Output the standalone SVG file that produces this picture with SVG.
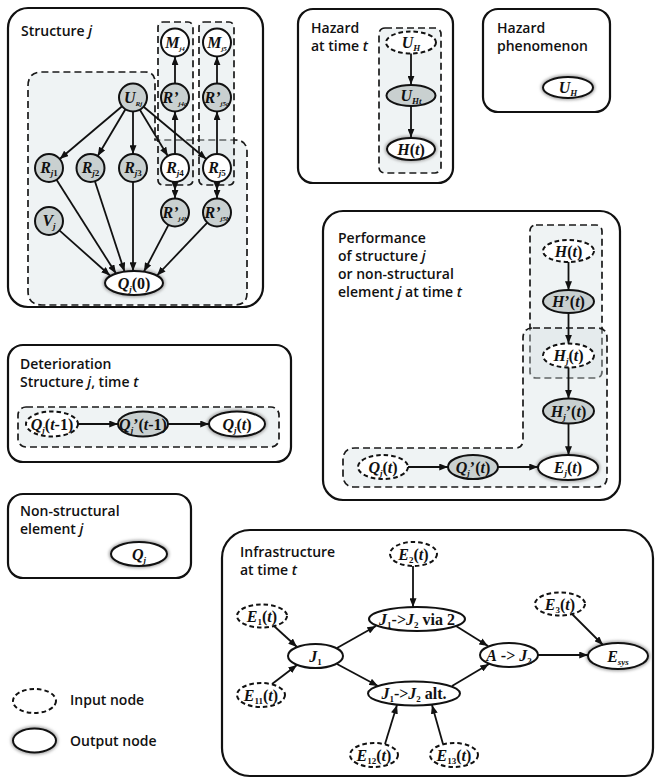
<svg xmlns="http://www.w3.org/2000/svg" width="655" height="778" viewBox="0 0 655 778">
<defs>
<style>
.panel{fill:#fff;stroke:#111;stroke-width:2.2}
.region{fill:#d5dfe1;fill-opacity:.38;stroke:#1a1a1a;stroke-width:1.7;stroke-dasharray:7 4}
.title{font-family:"Open Sans","Liberation Sans",sans-serif;font-weight:600;font-size:14px;fill:#111}
.it{font-style:italic}
.in{fill:#fff;stroke:#111;stroke-width:2;stroke-dasharray:4.5 3}
.mid{fill:#c9d0d0;stroke:#111;stroke-width:2}
.out{fill:#fff;stroke:#111;stroke-width:2}
.plain{fill:#fff;stroke:#111;stroke-width:2}
.halo{fill:none;stroke:#a8a8a8;stroke-width:4.5;filter:url(#blur)}
.lbl{font-family:"Liberation Serif","Times New Roman",serif;font-weight:bold;font-size:16px;text-anchor:middle;fill:#111}
.v{font-style:italic}
.s{font-size:9px}
.ss{font-size:7px}
.e{fill:none;stroke:#111;stroke-width:1.8;marker-end:url(#ah)}
.e2{fill:none;stroke:#111;stroke-width:1.8;marker-mid:url(#ah);marker-end:url(#ah)}
</style>
<marker id="ah" viewBox="0 0 10 8" refX="10" refY="4" markerWidth="9" markerHeight="7" markerUnits="userSpaceOnUse" orient="auto"><path d="M0,0 L10,4 L0,8 Z" fill="#111"/></marker>
<filter id="blur" x="-20%" y="-40%" width="140%" height="180%"><feGaussianBlur stdDeviation="1.6"/></filter>
</defs>

<!-- panels -->
<g id="panels">
<rect class="panel" x="8" y="8" width="255" height="299" rx="20"/>
<rect class="panel" x="298" y="9" width="155" height="174" rx="15"/>
<rect class="panel" x="483" y="9" width="127" height="103" rx="15"/>
<rect class="panel" x="323" y="211" width="297" height="289" rx="20"/>
<rect class="panel" x="8" y="345" width="283" height="117" rx="15"/>
<rect class="panel" x="8" y="494" width="183" height="84" rx="15"/>
<rect class="panel" x="222" y="530" width="431" height="246" rx="28"/>
</g>

<!-- dashed grouping regions -->
<g id="regions">
<path class="region" d="M28,86 Q28,72 42,72 H145 Q155,72 155,82 V140 H235 Q247,140 247,152 V293 Q247,305 235,305 H42 Q28,305 28,291 Z"/>
<rect class="region" x="158" y="22" width="35" height="163" rx="5"/>
<rect class="region" x="199" y="22" width="35" height="163" rx="5"/>
<rect class="region" x="379" y="28" width="62" height="145" rx="6"/>
<rect class="region" x="530" y="225" width="72" height="153" rx="6"/>
<path class="region" d="M533,328 H597 Q607,328 607,338 V477 Q607,487 597,487 H355 Q343,487 343,475 V460 Q343,448 355,448 H515 Q523,448 523,440 V338 Q523,328 533,328 Z"/>
<rect class="region" x="18" y="407" width="261" height="40" rx="8"/>
</g>

<!-- panel titles -->
<g id="titles" class="title">
<text x="21" y="36">Structure <tspan class="it">j</tspan></text>
<text x="311" y="33">Hazard</text>
<text x="311" y="51">at time <tspan class="it">t</tspan></text>
<text x="497" y="33">Hazard</text>
<text x="497" y="51">phenomenon</text>
<text x="338" y="243">Performance</text>
<text x="338" y="261">of structure <tspan class="it">j</tspan></text>
<text x="338" y="279">or non-structural</text>
<text x="338" y="297">element <tspan class="it">j</tspan> at time <tspan class="it">t</tspan></text>
<text x="20" y="369">Deterioration</text>
<text x="20" y="387">Structure <tspan class="it">j</tspan>, time <tspan class="it">t</tspan></text>
<text x="20" y="516">Non-structural</text>
<text x="20" y="534">element <tspan class="it">j</tspan></text>
<text x="240" y="557">Infrastructure</text>
<text x="240" y="575">at time <tspan class="it">t</tspan></text>
<text x="70" y="705">Input node</text>
<text x="70" y="746">Output node</text>
</g>

<!-- structure j -->
<g id="M_j4"><circle class="plain" cx="175" cy="42.5" r="14"/><text class="lbl" x="175" y="47.5"><tspan class="v">M</tspan><tspan class="ss v" dy="3">j4</tspan></text></g>
<g id="M_j5"><circle class="plain" cx="217" cy="42.5" r="14"/><text class="lbl" x="217" y="47.5"><tspan class="v">M</tspan><tspan class="ss v" dy="3">j5</tspan></text></g>
<g id="R_j4a"><circle class="mid" cx="175" cy="97.5" r="14"/><text class="lbl" x="175" y="102.5"><tspan class="v">R’</tspan><tspan class="ss v" dy="3">j4a</tspan></text></g>
<g id="R_j5a"><circle class="mid" cx="217" cy="97.5" r="14"/><text class="lbl" x="217" y="102.5"><tspan class="v">R’</tspan><tspan class="ss v" dy="3">j5a</tspan></text></g>
<g id="U_Rj"><circle class="mid" cx="133" cy="97.5" r="14"/><text class="lbl" x="133" y="102.5"><tspan class="v">U</tspan><tspan class="ss v" dy="3">Rj</tspan></text></g>
<g id="R_j1"><circle class="mid" cx="49" cy="168" r="14"/><text class="lbl" x="49" y="173"><tspan class="v">R</tspan><tspan class="s" dy="3"><tspan class="v">j</tspan>1</tspan></text></g>
<g id="R_j2"><circle class="mid" cx="90.5" cy="168" r="14"/><text class="lbl" x="90.5" y="173"><tspan class="v">R</tspan><tspan class="s" dy="3"><tspan class="v">j</tspan>2</tspan></text></g>
<g id="R_j3"><circle class="mid" cx="133" cy="168" r="14"/><text class="lbl" x="133" y="173"><tspan class="v">R</tspan><tspan class="s" dy="3"><tspan class="v">j</tspan>3</tspan></text></g>
<g id="R_j4"><circle class="plain" cx="175" cy="168" r="14"/><text class="lbl" x="175" y="173"><tspan class="v">R</tspan><tspan class="s" dy="3"><tspan class="v">j</tspan>4</tspan></text></g>
<g id="R_j5"><circle class="plain" cx="217" cy="168" r="14"/><text class="lbl" x="217" y="173"><tspan class="v">R</tspan><tspan class="s" dy="3"><tspan class="v">j</tspan>5</tspan></text></g>
<g id="V_j"><circle class="mid" cx="49" cy="221" r="14"/><text class="lbl" x="49" y="226"><tspan class="v">V</tspan><tspan class="s v" dy="3">j</tspan></text></g>
<g id="R_j4b"><circle class="mid" cx="175" cy="212.5" r="14"/><text class="lbl" x="175" y="217.5"><tspan class="v">R’</tspan><tspan class="ss v" dy="3">j4b</tspan></text></g>
<g id="R_j5b"><circle class="mid" cx="217" cy="212.5" r="14"/><text class="lbl" x="217" y="217.5"><tspan class="v">R’</tspan><tspan class="ss v" dy="3">j5b</tspan></text></g>
<g id="Q_j0"><ellipse class="halo" cx="134" cy="283" rx="29" ry="12"/><ellipse class="out" cx="134" cy="283" rx="29" ry="12"/><text class="lbl" x="134" y="288.5"><tspan class="v">Q</tspan><tspan class="s v" dy="3">j</tspan><tspan dy="-3">(0)</tspan></text></g>

<!-- hazard at time t -->
<g id="U_H_in"><ellipse class="in" cx="411" cy="42.5" rx="25" ry="11"/><text class="lbl" x="411" y="47.5"><tspan class="v">U</tspan><tspan class="s v" dy="3">H</tspan></text></g>
<g id="U_Ht"><ellipse class="mid" cx="411" cy="95.5" rx="24.5" ry="10.5"/><text class="lbl" x="411" y="100.5"><tspan class="v">U</tspan><tspan class="s v" dy="3">Ht</tspan></text></g>
<g id="H_t_out"><ellipse class="halo" cx="411" cy="149" rx="24" ry="11"/><ellipse class="out" cx="411" cy="149" rx="24" ry="11"/><text class="lbl" x="411" y="154.5"><tspan class="v">H</tspan>(<tspan class="v">t</tspan>)</text></g>

<!-- hazard phenomenon -->
<g id="U_H"><ellipse class="halo" cx="568" cy="87.5" rx="25" ry="10.5"/><ellipse class="out" cx="568" cy="87.5" rx="25" ry="10.5"/><text class="lbl" x="568" y="92.5"><tspan class="v">U</tspan><tspan class="s v" dy="3">H</tspan></text></g>

<!-- performance -->
<g id="H_t_in"><ellipse class="in" cx="568.5" cy="251" rx="25.5" ry="11"/><text class="lbl" x="568.5" y="256.5"><tspan class="v">H</tspan>(<tspan class="v">t</tspan>)</text></g>
<g id="H_prime"><ellipse class="mid" cx="568.5" cy="301.5" rx="25.5" ry="11.5"/><text class="lbl" x="568.5" y="307"><tspan class="v">H</tspan>’(<tspan class="v">t</tspan>)</text></g>
<g id="H_j"><ellipse class="in" cx="568.5" cy="355.5" rx="25.5" ry="12"/><text class="lbl" x="568.5" y="361"><tspan class="v">H</tspan><tspan class="s v" dy="3">j</tspan><tspan dy="-3">(</tspan><tspan class="v">t</tspan>)</text></g>
<g id="H_j_prime"><ellipse class="mid" cx="568.5" cy="411" rx="25.5" ry="12.5"/><text class="lbl" x="568.5" y="416.5"><tspan class="v">H</tspan><tspan class="s v" dy="3">j</tspan><tspan dy="-3">’(</tspan><tspan class="v">t</tspan>)</text></g>
<g id="E_j"><ellipse class="halo" cx="568" cy="467.5" rx="30" ry="12.5"/><ellipse class="out" cx="568" cy="467.5" rx="30" ry="12.5"/><text class="lbl" x="568" y="473"><tspan class="v">E</tspan><tspan class="s v" dy="3">j</tspan><tspan dy="-3">(</tspan><tspan class="v">t</tspan>)</text></g>
<g id="Q_j_t"><ellipse class="in" cx="383" cy="467" rx="25" ry="12"/><text class="lbl" x="383" y="472.5"><tspan class="v">Q</tspan><tspan class="s v" dy="3">j</tspan><tspan dy="-3">(</tspan><tspan class="v">t</tspan>)</text></g>
<g id="Q_j_prime"><ellipse class="mid" cx="473" cy="467" rx="25" ry="12"/><text class="lbl" x="473" y="472.5"><tspan class="v">Q</tspan><tspan class="s v" dy="3">j</tspan><tspan dy="-3">’(</tspan><tspan class="v">t</tspan>)</text></g>

<!-- deterioration -->
<g id="Q_j_tm1"><ellipse class="in" cx="52" cy="424" rx="26" ry="12.5"/><text class="lbl" x="52" y="429.5"><tspan class="v">Q</tspan><tspan class="s v" dy="3">j</tspan><tspan dy="-3">(</tspan><tspan class="v">t</tspan>-1)</text></g>
<g id="Q_j_prime_tm1"><ellipse class="mid" cx="143" cy="424" rx="25" ry="12.5"/><text class="lbl" x="143" y="429.5"><tspan class="v">Q</tspan><tspan class="s v" dy="3">j</tspan><tspan dy="-3">’(</tspan><tspan class="v">t</tspan>-1)</text></g>
<g id="Q_j_t_out"><ellipse class="halo" cx="237" cy="424" rx="28" ry="12.5"/><ellipse class="out" cx="237" cy="424" rx="28" ry="12.5"/><text class="lbl" x="237" y="429.5"><tspan class="v">Q</tspan><tspan class="s v" dy="3">j</tspan><tspan dy="-3">(</tspan><tspan class="v">t</tspan>)</text></g>

<!-- non-structural element -->
<g id="Q_j"><ellipse class="halo" cx="139" cy="554" rx="28" ry="12"/><ellipse class="out" cx="139" cy="554" rx="28" ry="12"/><text class="lbl" x="139" y="559.5"><tspan class="v">Q</tspan><tspan class="s v" dy="3">j</tspan></text></g>

<!-- infrastructure -->
<g id="E_2"><ellipse class="in" cx="413.5" cy="554" rx="23.5" ry="12"/><text class="lbl" x="413.5" y="559.5"><tspan class="v">E</tspan><tspan class="s" dy="3">2</tspan><tspan dy="-3">(</tspan><tspan class="v">t</tspan>)</text></g>
<g id="E_1"><ellipse class="in" cx="262" cy="616" rx="25" ry="11.5"/><text class="lbl" x="262" y="621.5"><tspan class="v">E</tspan><tspan class="s" dy="3">1</tspan><tspan dy="-3">(</tspan><tspan class="v">t</tspan>)</text></g>
<g id="via2"><ellipse class="plain" cx="417" cy="619" rx="48" ry="12"/><text class="lbl" x="417" y="624.5"><tspan class="v">J</tspan><tspan class="s" dy="3">1</tspan><tspan dy="-3">-&gt;</tspan><tspan class="v">J</tspan><tspan class="s" dy="3">2</tspan><tspan dy="-3"> via 2</tspan></text></g>
<g id="E_3"><ellipse class="in" cx="560" cy="604" rx="25" ry="11.5"/><text class="lbl" x="560" y="609.5"><tspan class="v">E</tspan><tspan class="s" dy="3">3</tspan><tspan dy="-3">(</tspan><tspan class="v">t</tspan>)</text></g>
<g id="J_1"><ellipse class="plain" cx="315.5" cy="656" rx="27.5" ry="12"/><text class="lbl" x="315.5" y="661.5"><tspan class="v">J</tspan><tspan class="s" dy="3">1</tspan></text></g>
<g id="A_J2"><ellipse class="plain" cx="509" cy="655" rx="29" ry="12"/><text class="lbl" x="509" y="660.5"><tspan class="v">A</tspan><tspan> -&gt; </tspan><tspan class="v">J</tspan><tspan class="s" dy="3">2</tspan></text></g>
<g id="E_sys"><ellipse class="halo" cx="618" cy="656" rx="30" ry="13"/><ellipse class="out" cx="618" cy="656" rx="30" ry="13"/><text class="lbl" x="618" y="661.5"><tspan class="v">E</tspan><tspan class="s v" dy="3">sys</tspan></text></g>
<g id="E_11"><ellipse class="in" cx="261" cy="695" rx="24" ry="12"/><text class="lbl" x="261" y="700.5"><tspan class="v">E</tspan><tspan class="s" dy="3">11</tspan><tspan dy="-3">(</tspan><tspan class="v">t</tspan>)</text></g>
<g id="alt"><ellipse class="plain" cx="414" cy="693.5" rx="46" ry="12"/><text class="lbl" x="414" y="699"><tspan class="v">J</tspan><tspan class="s" dy="3">1</tspan><tspan dy="-3">-&gt;</tspan><tspan class="v">J</tspan><tspan class="s" dy="3">2</tspan><tspan dy="-3"> alt.</tspan></text></g>
<g id="E_12"><ellipse class="in" cx="374" cy="755" rx="24" ry="12"/><text class="lbl" x="374" y="760.5"><tspan class="v">E</tspan><tspan class="s" dy="3">12</tspan><tspan dy="-3">(</tspan><tspan class="v">t</tspan>)</text></g>
<g id="E_13"><ellipse class="in" cx="454" cy="755" rx="24" ry="12"/><text class="lbl" x="454" y="760.5"><tspan class="v">E</tspan><tspan class="s" dy="3">13</tspan><tspan dy="-3">(</tspan><tspan class="v">t</tspan>)</text></g>

<!-- legend -->
<g id="legend_input"><ellipse class="in" cx="34.5" cy="701" rx="21.5" ry="12"/></g>
<g id="legend_output"><ellipse class="halo" cx="34.5" cy="740.5" rx="21.5" ry="12"/><ellipse class="out" cx="34.5" cy="740.5" rx="21.5" ry="12"/></g>

<!-- connectors -->
<g id="connectors">
<line class="e" x1="121.8" y1="106.5" x2="59.7" y2="159"/>
<line class="e" x1="125.3" y1="109.5" x2="97.7" y2="156"/>
<line class="e" x1="133" y1="111.5" x2="133" y2="154"/>
<line class="e" x1="139.7" y1="109.5" x2="167.8" y2="156"/>
<line class="e" x1="143.3" y1="106.5" x2="206.2" y2="159"/>
<line class="e" x1="175" y1="154" x2="175" y2="111.5"/>
<line class="e" x1="175" y1="83.5" x2="175" y2="56.5"/>
<line class="e" x1="217" y1="154" x2="217" y2="111.5"/>
<line class="e" x1="217" y1="83.5" x2="217" y2="56.5"/>
<path class="e2" d="M175,182 V190.5 V198.5"/>
<path class="e2" d="M217,182 V190.5 V198.5"/>
<line class="e" x1="59.4" y1="230.3" x2="110" y2="275.5"/>
<line class="e" x1="56.5" y1="179.8" x2="116" y2="273.5"/>
<line class="e" x1="94.9" y1="181.3" x2="124.5" y2="271.5"/>
<line class="e" x1="133" y1="182" x2="133" y2="271"/>
<line class="e" x1="168.5" y1="224.9" x2="144" y2="271.5"/>
<line class="e" x1="207.3" y1="222.6" x2="157" y2="275.5"/>

<line class="e" x1="411" y1="53.5" x2="411" y2="84.5"/>
<line class="e" x1="411" y1="106" x2="411" y2="137.5"/>

<line class="e" x1="568.5" y1="262" x2="568.5" y2="290"/>
<line class="e" x1="568.5" y1="313" x2="568.5" y2="343.5"/>
<line class="e" x1="568.5" y1="367.5" x2="568.5" y2="398.5"/>
<line class="e" x1="568.5" y1="423.5" x2="568.5" y2="455"/>
<line class="e" x1="408" y1="467" x2="448" y2="467"/>
<line class="e" x1="498" y1="467" x2="538" y2="467"/>

<line class="e" x1="78" y1="424" x2="118" y2="424"/>
<line class="e" x1="168" y1="424" x2="209" y2="424"/>

<line class="e" x1="413" y1="566" x2="413" y2="607"/>
<line class="e" x1="274" y1="626" x2="297" y2="647"/>
<line class="e" x1="272" y1="684" x2="297" y2="665"/>
<line class="e" x1="337" y1="648" x2="376" y2="626"/>
<line class="e" x1="337" y1="664" x2="378" y2="686"/>
<line class="e" x1="456" y1="626" x2="488" y2="646"/>
<line class="e" x1="452" y1="686" x2="489" y2="664"/>
<line class="e" x1="538" y1="655" x2="588" y2="655"/>
<line class="e" x1="572" y1="614" x2="603" y2="645"/>
<line class="e" x1="385" y1="744" x2="397" y2="705"/>
<line class="e" x1="443" y1="744" x2="432" y2="705"/>
</g>
</svg>
